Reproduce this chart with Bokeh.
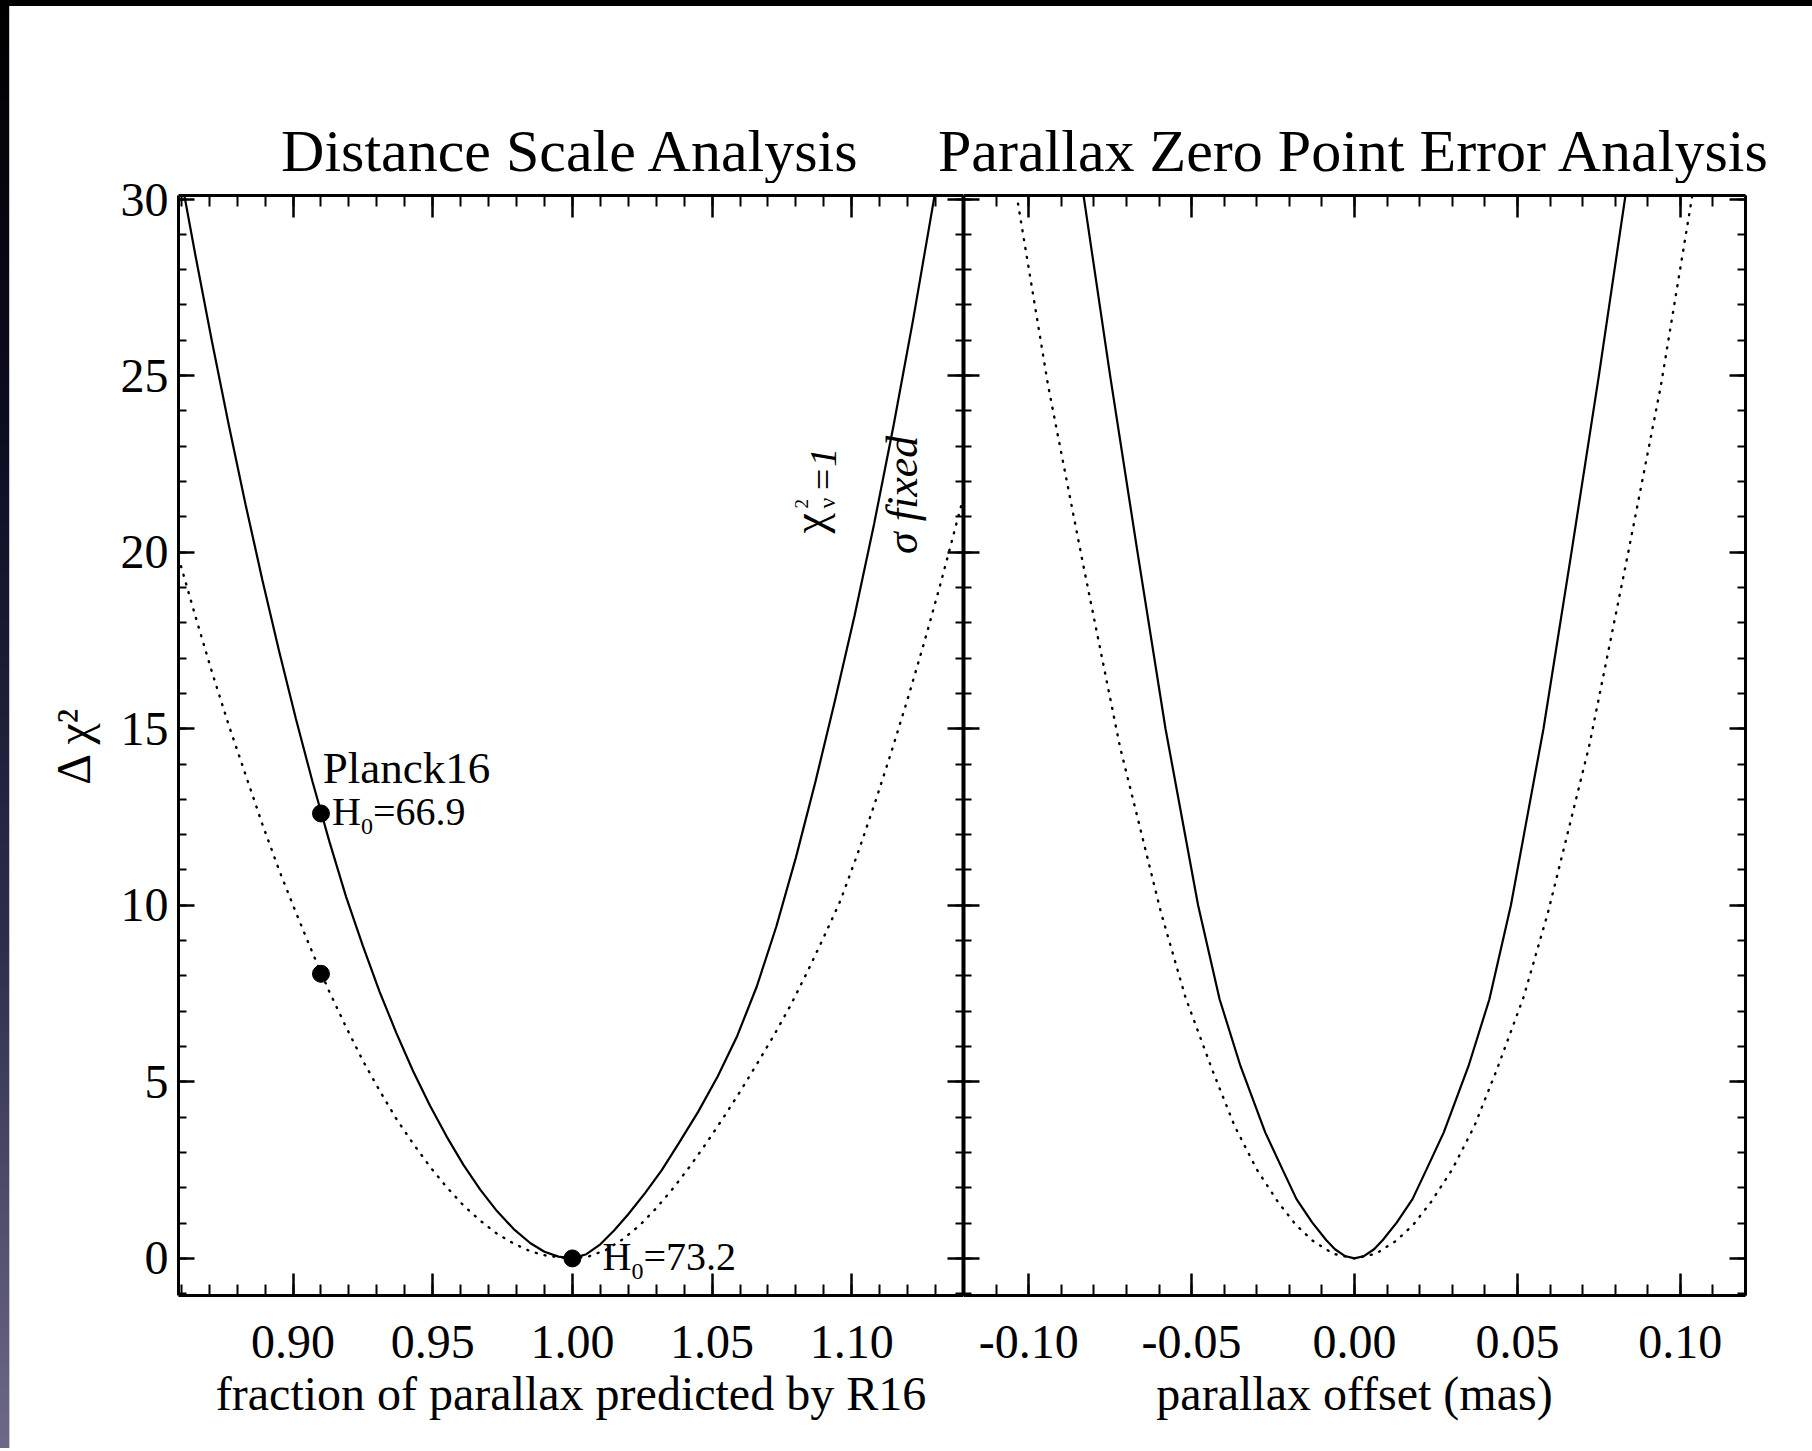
import math
from bokeh.plotting import figure
from bokeh.models import (Range1d, LinearAxis, FixedTicker, NumeralTickFormatter, Div,
                          CustomLabelingPolicy)
from bokeh.layouts import row, column
from bokeh.embed import file_html
from bokeh.resources import INLINE
from bokeh.core.properties import value

# ---------------- data ----------------
# Left panel: Delta chi^2 vs fraction of parallax predicted by R16
solid_left_x = [0.859, 0.865, 0.871, 0.877, 0.883, 0.889, 0.895, 0.901, 0.907, 0.913,
                0.919, 0.925, 0.931, 0.937, 0.943, 0.949, 0.955, 0.961, 0.967, 0.973,
                0.979, 0.985, 0.990, 0.995, 1.000, 1.005, 1.010, 1.015, 1.020, 1.026,
                1.032, 1.038, 1.045, 1.052, 1.059, 1.066, 1.073, 1.080, 1.087, 1.094,
                1.101, 1.108, 1.115, 1.122, 1.129, 1.135]
solid_left_y = [31.0, 28.43, 25.96, 23.6, 21.35, 19.22, 17.2, 15.29, 13.49, 11.81,
                10.24, 8.85, 7.55, 6.38, 5.3, 4.33, 3.45, 2.65, 1.95, 1.34,
                0.83, 0.43, 0.19, 0.05, 0.0, 0.12, 0.40, 0.80, 1.25, 1.85,
                2.50, 3.25, 4.15, 5.15, 6.30, 7.70, 9.40, 11.35, 13.5, 15.8,
                18.2, 20.8, 23.6, 26.6, 29.8, 32.6]

dotted_left_x = [0.859, 0.865, 0.871, 0.877, 0.883, 0.889, 0.895, 0.901, 0.907, 0.913,
                 0.919, 0.925, 0.931, 0.937, 0.943, 0.949, 0.955, 0.961, 0.967, 0.973,
                 0.979, 0.985, 0.991, 1.000, 1.006, 1.012, 1.018, 1.024, 1.030, 1.036,
                 1.042, 1.048, 1.054, 1.060, 1.066, 1.072, 1.078, 1.084, 1.090, 1.096,
                 1.102, 1.108, 1.114, 1.120, 1.126, 1.132, 1.140]
dotted_left_y = [19.85, 18.2, 16.6, 15.1, 13.7, 12.3, 11.0, 9.8, 8.65, 7.55,
                 6.55, 5.6, 4.75, 3.95, 3.25, 2.6, 2.02, 1.5, 1.07, 0.7,
                 0.42, 0.2, 0.07, 0.0, 0.06, 0.24, 0.54, 0.93, 1.42, 1.98,
                 2.6, 3.27, 3.98, 4.72, 5.5, 6.3, 7.15, 8.1, 9.1, 10.14,
                 11.44, 12.83, 14.3, 15.84, 17.46, 19.17, 21.56]

marker_x = [0.91, 0.91, 1.00]
marker_y = [12.6, 8.06, 0.0]

# Right panel: Delta chi^2 vs parallax offset (mas)
solid_right_x = [-0.0860, -0.0830, -0.0750, -0.0666, -0.0580, -0.0480, -0.0414, -0.0350, -0.0274, -0.0220,
                 -0.0178, -0.0130, -0.0087, -0.0060, -0.0030, 0.0000, 0.0030, 0.0060, 0.0087, 0.0130,
                 0.0178, 0.0220, 0.0274, 0.0350, 0.0414, 0.0480, 0.0580, 0.0666, 0.0750, 0.0830, 0.0860]
solid_right_y = [32.0, 30.0, 25.0, 20.0, 15.0, 10.0, 7.34, 5.45, 3.57, 2.5,
                 1.68, 1.02, 0.52, 0.26, 0.07, 0.0, 0.07, 0.26, 0.52, 1.02,
                 1.68, 2.5, 3.57, 5.45, 7.34, 10.0, 15.0, 20.0, 25.0, 30.0, 32.0]

dotted_right_x = [-0.1100, -0.1035, -0.0940, -0.0836, -0.0720, -0.0594, -0.0519, -0.0437, -0.0368, -0.0300,
                  -0.0235, -0.0180, -0.0128, -0.0065, 0.0000, 0.0065, 0.0128, 0.0180, 0.0235, 0.0300,
                  0.0368, 0.0437, 0.0519, 0.0594, 0.0720, 0.0836, 0.0940, 0.1035, 0.1100]
dotted_right_y = [33.9, 30.0, 24.7, 19.8, 14.5, 9.8, 7.4, 5.35, 3.75, 2.52,
                  1.6, 0.95, 0.5, 0.13, 0.0, 0.13, 0.5, 0.95, 1.6, 2.52,
                  3.75, 5.35, 7.4, 9.8, 14.5, 19.8, 24.7, 30.0, 33.9]

# ticks
y_major = [0, 5, 10, 15, 20, 25, 30]
y_labels = ["0", "5", "10", "15", "20", "25", "30"]
y_minor = [-1, 0, 1, 2, 3, 4, 5, 6, 7, 8, 9, 10, 11, 12, 13, 14, 15, 16, 17, 18, 19, 20,
           21, 22, 23, 24, 25, 26, 27, 28, 29, 30]
xL_major = [0.90, 0.95, 1.00, 1.05, 1.10]
xL_labels = ["0.90", "0.95", "1.00", "1.05", "1.10"]
xL_minor = [0.86, 0.87, 0.88, 0.89, 0.90, 0.91, 0.92, 0.93, 0.94, 0.95, 0.96, 0.97, 0.98, 0.99,
            1.00, 1.01, 1.02, 1.03, 1.04, 1.05, 1.06, 1.07, 1.08, 1.09, 1.10, 1.11, 1.12, 1.13, 1.14]
xR_major = [-0.10, -0.05, 0.00, 0.05, 0.10]
xR_labels = ["-0.10", "-0.05", "0.00", "0.05", "0.10"]
xR_minor = [-0.12, -0.11, -0.10, -0.09, -0.08, -0.07, -0.06, -0.05, -0.04, -0.03, -0.02, -0.01,
            0.00, 0.01, 0.02, 0.03, 0.04, 0.05, 0.06, 0.07, 0.08, 0.09, 0.10, 0.11, 0.12]

titles = ["Distance Scale Analysis", "Parallax Zero Point Error Analysis"]
xL_title = "fraction of parallax predicted by R16"
xR_title = "parallax offset (mas)"
y_title = "Δ χ²"

# ---------------- layout geometry (page pixels) ----------------
FONT = "Liberation Serif"
STRIP_W = 10
TOPBAR_H = 6
FRAME_L, FRAME_MID, FRAME_R = 178, 963, 1745
FRAME_T, FRAME_B = 195, 1295
TITLE_BOTTOM = 183
TITLE_BASELINE = 170
PAGE_BOTTOM = 1448
BASE_FIX = 0.34   # alphabetic-baseline correction (fraction of font size)

figL_x0 = STRIP_W
bL = FRAME_L - figL_x0
wL = FRAME_MID - FRAME_L
wR = FRAME_R - FRAME_MID
bR = 30
title_h = TITLE_BOTTOM - TOPBAR_H
b_top = FRAME_T - TITLE_BOTTOM
frame_h = FRAME_B - FRAME_T
b_bot = PAGE_BOTTOM - FRAME_B
panel_h = b_top + frame_h + b_bot

Y_RANGE = (-1.05, 30.1)
XL_RANGE = (0.859, 1.140)
XR_RANGE = (-0.12, 0.12)


def no_labels():
    """labeling policy that shows no tick labels (tick marks only)"""
    return CustomLabelingPolicy(code="return []")


def add_axis(p, side, ticks, minor, major_len, minor_len, labels=None, fmt="0",
             title=None, line_w=3, label_standoff=10, title_standoff=5):
    ax = LinearAxis(ticker=FixedTicker(ticks=ticks, minor_ticks=minor))
    ax.major_tick_in = major_len
    ax.major_tick_out = 0
    ax.minor_tick_in = minor_len
    ax.minor_tick_out = 0
    ax.axis_line_width = line_w
    ax.axis_line_color = "black"
    ax.major_tick_line_width = 2.5
    ax.minor_tick_line_width = 2
    ax.major_tick_line_color = "black"
    ax.minor_tick_line_color = "black"
    if labels is not None:
        ax.formatter = NumeralTickFormatter(format=fmt)
        ax.major_label_overrides = dict(zip(ticks, labels))
        ax.major_label_text_font = FONT
        ax.major_label_text_font_size = "48px"
        ax.major_label_text_color = "black"
        ax.major_label_standoff = label_standoff
    else:
        ax.major_label_policy = no_labels()
        ax.major_label_text_font_size = "0px"
        ax.major_label_standoff = 0
    if title is not None:
        ax.axis_label = title
        ax.axis_label_text_font = FONT
        ax.axis_label_text_font_size = "48px"
        ax.axis_label_text_font_style = "normal"
        ax.axis_label_text_color = "black"
        ax.axis_label_standoff = title_standoff
    p.add_layout(ax, side)
    return ax


def make_panel(x_range, width, border_l, border_r):
    p = figure(width=width, height=panel_h, title=None,
               x_range=Range1d(*x_range), y_range=Range1d(*Y_RANGE),
               output_backend="svg", toolbar_location=None,
               x_axis_location=None, y_axis_location=None,
               min_border_left=border_l, min_border_right=border_r,
               min_border_top=b_top, min_border_bottom=b_bot)
    p.xgrid.visible = False
    p.ygrid.visible = False
    p.outline_line_color = None
    p.background_fill_color = "white"
    p.border_fill_color = "white"
    return p


def htext(p, x, y, s, size, dx=0, dy=0, **kw):
    """horizontal text whose baseline passes through (x, y) shifted by dx, dy pixels"""
    p.text(x=[x], y=[y], text=[s], text_font=value(FONT), text_font_size=f"{size}px",
           text_color="black", text_align="left", text_baseline="alphabetic",
           x_offset=dx, y_offset=dy - round(BASE_FIX * size), **kw)


def vtext(p, x, y, s, size, dx=0, dy=0, **kw):
    """text rotated 90 deg (reads bottom to top), baseline through (x, y)"""
    p.text(x=[x], y=[y], text=[s], text_font=value(FONT), text_font_size=f"{size}px",
           text_color="black", text_align="left", text_baseline="alphabetic",
           angle=math.pi / 2, x_offset=dx - round(BASE_FIX * size), y_offset=dy, **kw)


# ---------------- left panel ----------------
pL = make_panel(XL_RANGE, bL + wL, bL, 0)
add_axis(pL, "below", xL_major, xL_minor, 22, 11, labels=xL_labels, fmt="0.00",
         title=xL_title, label_standoff=30, title_standoff=6)
add_axis(pL, "above", xL_major, xL_minor, 22, 11)
add_axis(pL, "left", y_major, y_minor, 16, 8, labels=y_labels, fmt="0",
         title=y_title, label_standoff=10, title_standoff=18)
add_axis(pL, "right", y_major, y_minor, 16, 8, line_w=4)

pL.line(solid_left_x, solid_left_y, line_color="black", line_width=2.2)
pL.line(dotted_left_x, dotted_left_y, line_color="black", line_width=2.4,
        line_dash="1 8", line_cap="round")
pL.scatter(marker_x, marker_y, size=17, marker="circle", color="black")

htext(pL, 0.9106, 13.47, "Planck16", 45)
# H0=66.9
htext(pL, 0.91, 12.26, "H", 40, dx=11)
htext(pL, 0.91, 12.26, "0", 24, dx=40, dy=9)
htext(pL, 0.91, 12.26, "=66.9", 40, dx=52)
# H0=73.2
htext(pL, 1.00, -0.345, "H", 40, dx=30)
htext(pL, 1.00, -0.345, "0", 24, dx=59, dy=9)
htext(pL, 1.00, -0.345, "=73.2", 40, dx=71)

# rotated curve labels
vtext(pL, 1.0906, 20.53, "χ", 46)
vtext(pL, 1.0906, 20.53, "2", 19, dx=-18, dy=-25)
vtext(pL, 1.0906, 20.53, "ν", 24, dx=10, dy=-25)
vtext(pL, 1.0906, 20.53, "=1", 38, dx=11, dy=-41, text_font_style="italic")
vtext(pL, 1.1235, 19.95, "σ fixed", 44, text_font_style="italic")

# ---------------- right panel ----------------
pR = make_panel(XR_RANGE, wR + bR, 0, bR)
add_axis(pR, "below", xR_major, xR_minor, 22, 11, labels=xR_labels, fmt="0.00",
         title=xR_title, label_standoff=30, title_standoff=6)
add_axis(pR, "above", xR_major, xR_minor, 22, 11)
add_axis(pR, "left", y_major, y_minor, 16, 8, line_w=4)
add_axis(pR, "right", y_major, y_minor, 16, 8)

pR.line(solid_right_x, solid_right_y, line_color="black", line_width=2.2)
pR.line(dotted_right_x, dotted_right_y, line_color="black", line_width=2.4,
        line_dash="1 8", line_cap="round")

# ---------------- title strip ----------------
title_w = pL.width + pR.width
pT = figure(width=title_w, height=title_h, title=None,
            x_range=Range1d(0, title_w), y_range=Range1d(0, title_h),
            output_backend="svg", toolbar_location=None, x_axis_location=None, y_axis_location=None,
            min_border=0)
pT.xgrid.visible = False
pT.ygrid.visible = False
pT.outline_line_color = None
cL = (FRAME_L + FRAME_MID) / 2 - figL_x0
cR = (FRAME_MID + FRAME_R) / 2 - figL_x0
t_y = TITLE_BOTTOM - TITLE_BASELINE + round(BASE_FIX * 60)
pT.text(x=[cL, cR], y=[t_y, t_y], text=titles,
        text_font=value(FONT), text_font_size="60px", text_align="center",
        text_baseline="alphabetic", text_color="black")

# ---------------- slide background strips ----------------
topbar = Div(text="", width=1812, height=TOPBAR_H, margin=0,
             styles={"background": "#000000"})
strip = Div(text="", width=STRIP_W, height=title_h + panel_h, margin=0,
            styles={"background": "linear-gradient(to bottom, #000000 0%, #0d0d22 30%, #2e2d4c 65%, #6c6a86 100%)",
                    "border-right": "1px solid #c8c8d0", "box-sizing": "border-box"})

layout = column(topbar, row(strip, column(pT, row(pL, pR, spacing=0), spacing=0), spacing=0), spacing=0)

open("out.html", "w").write(file_html(layout, INLINE))
